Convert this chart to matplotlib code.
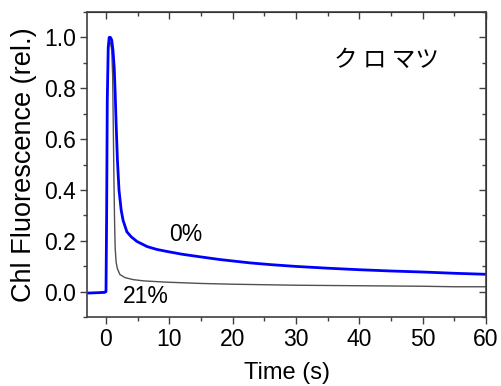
import matplotlib.pyplot as plt
from matplotlib.ticker import MultipleLocator

plt.rcParams['font.family'] = ['Liberation Sans', 'Noto Sans CJK JP', 'DejaVu Sans']

# 0% O2 (blue)
t_0 = [-3, -2, -1, -0.2, 0.0, 0.1, 0.2, 0.35, 0.5, 0.7, 0.9, 1.1, 1.3, 1.45, 1.6, 1.8, 2.05,
       2.4, 2.7, 3.3, 4.0, 4.9, 6.5, 8, 9.6, 12, 14.8, 18, 22.7, 26, 30, 35, 40, 45, 50, 55, 60]
f_0 = [-0.006, -0.005, -0.004, -0.003, 0.0, 0.3, 0.75, 0.96, 1.0, 1.0, 0.99, 0.95, 0.88, 0.78, 0.66, 0.52, 0.4,
       0.32, 0.28, 0.235, 0.215, 0.197, 0.177, 0.166, 0.158, 0.147, 0.137, 0.126, 0.113, 0.106, 0.099, 0.092, 0.086, 0.081, 0.077, 0.072, 0.068]

# 21% O2 (gray)
t_21 = [-3, -2, -1, -0.2, 0.0, 0.1, 0.2, 0.35, 0.5, 0.7, 0.9, 1.05, 1.15, 1.25, 1.35, 1.45, 1.6, 1.8,
        2.2, 3.0, 4.3, 6, 9.6, 15, 20, 30, 40, 50, 55, 60]
f_21 = [-0.006, -0.005, -0.004, -0.003, 0.0, 0.3, 0.75, 0.95, 0.98, 0.98, 0.95, 0.85, 0.65, 0.45, 0.28, 0.17, 0.115, 0.09,
        0.067, 0.055, 0.047, 0.042, 0.037, 0.032, 0.029, 0.025, 0.023, 0.021, 0.019, 0.019]

fig = plt.figure(figsize=(5.01, 3.86), dpi=100)
ax = fig.add_axes([87 / 501, 1 - 317 / 386, (486 - 87) / 501, (317 - 12) / 386])

ax.plot(t_21, f_21, color='#505050', lw=1.0)
ax.plot(t_0, f_0, color='#0000ff', lw=2.0)

ax.set_xlim(-3, 60)
ax.set_ylim(-0.1, 1.1)
ax.xaxis.set_major_locator(MultipleLocator(10))
ax.xaxis.set_minor_locator(MultipleLocator(5))
ax.yaxis.set_major_locator(MultipleLocator(0.2))
ax.yaxis.set_minor_locator(MultipleLocator(0.1))
ax.yaxis.set_major_formatter(plt.FormatStrFormatter('%.1f'))

for s in ax.spines.values():
    s.set_color('#404040')
    s.set_linewidth(1.2)

ax.tick_params(axis='both', which='major', direction='out', length=5, width=1, color='#404040',
               labelsize=16.5, pad=3)
ax.tick_params(axis='both', which='minor', direction='out', length=3, width=1, color='#404040')

# mirrored inward ticks on top and right
axt = ax.secondary_xaxis('top')
axt.xaxis.set_major_locator(MultipleLocator(10))
axt.xaxis.set_minor_locator(MultipleLocator(5))
axt.tick_params(which='major', direction='in', length=5, width=1, color='#404040', labeltop=False)
axt.tick_params(which='minor', direction='in', length=3, width=1, color='#404040')
axr = ax.secondary_yaxis('right')
axr.yaxis.set_major_locator(MultipleLocator(0.2))
axr.yaxis.set_minor_locator(MultipleLocator(0.1))
axr.tick_params(which='major', direction='in', length=5, width=1, color='#404040', labelright=False)
axr.tick_params(which='minor', direction='in', length=3, width=1, color='#404040')

ax.set_xlabel('Time (s)', fontsize=17, labelpad=8)
ax.set_ylabel('Chl Fluorescence (rel.)', fontsize=19.5, labelpad=5)

ax.text(12.6, 0.223, '0%', fontsize=16.5, ha='center', va='center')
ax.text(6.3, -0.02, '21%', fontsize=16.5, ha='center', va='center')
ax.text(44.3, 0.91, 'ク ロ マツ', fontsize=17, ha='center', va='center',
        family=['Noto Sans CJK JP', 'DejaVu Sans'])

fig.savefig('out.png', dpi=100)
